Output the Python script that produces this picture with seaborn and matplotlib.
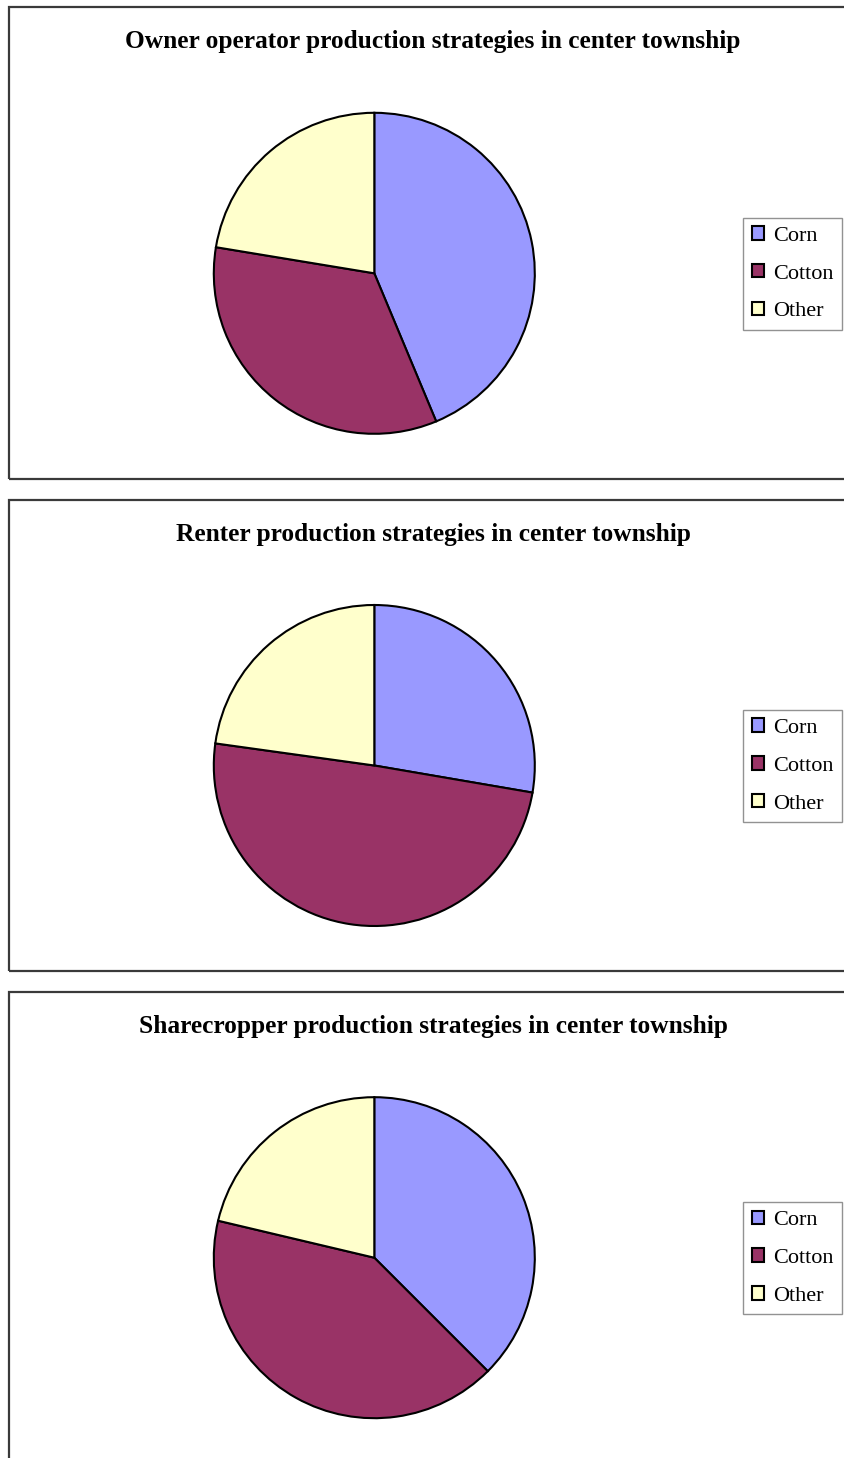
import matplotlib
matplotlib.use("Agg")
import matplotlib.pyplot as plt
from matplotlib.patches import Rectangle
import seaborn as sns
import pandas as pd

# ---- data (percent shares) ----
categories = ["Corn", "Cotton", "Other"]
owner_values = [43.7, 33.9, 22.4]
renter_values = [27.7, 49.5, 22.8]
sharecropper_values = [37.5, 41.2, 21.3]
titles = [
    "Owner operator production strategies in center township",
    "Renter production strategies in center township",
    "Sharecropper production strategies in center township",
]

df = pd.DataFrame({
    "category": categories * 3,
    "group": ["owner"] * 3 + ["renter"] * 3 + ["sharecropper"] * 3,
    "value": owner_values + renter_values + sharecropper_values,
})

sns.set_style("white")
plt.rcParams["font.family"] = ["Liberation Serif", "DejaVu Serif"]
plt.rcParams["text.color"] = "black"

palette = sns.color_palette(["#9999FF", "#993366", "#FFFFCC"])

W, H = 845, 1458
fig = plt.figure(figsize=(W / 100, H / 100), dpi=100)
fig.patch.set_facecolor("white")

panel_tops = [6.5, 499.5, 991.5]
panel_bottoms = [479, 971, 1475]
pie_centers = [(374.3, 273.3), (374.3, 765.5), (374.3, 1257.7)]
radius_px = 160.5
pad = 1.04

groups = ["owner", "renter", "sharecropper"]
for i, g in enumerate(groups):
    top, bot = panel_tops[i], panel_bottoms[i]
    # panel frame
    fig.add_artist(Rectangle((9.5 / W, 1 - bot / H), 1.1, (bot - top) / H,
                             transform=fig.transFigure, fill=False,
                             ec="#3a3a3a", lw=1.6, zorder=0))
    # title
    fig.text(433 / W, 1 - (top + 41.5) / H, titles[i], ha="center", va="baseline",
             fontsize=18.3, fontweight="bold", color="black",
             family=["Liberation Serif", "DejaVu Serif"])
    # pie
    cx, cy = pie_centers[i]
    half = radius_px * pad
    ax = fig.add_axes([(cx - half) / W, 1 - (cy + half) / H, 2 * half / W, 2 * half / H])
    sub = df[df["group"] == g]
    wedges, _ = ax.pie(sub["value"], colors=palette, startangle=90, counterclock=False,
                       radius=1.0, wedgeprops=dict(edgecolor="black", linewidth=1.5))
    ax.set_xlim(-pad, pad)
    ax.set_ylim(-pad, pad)
    ax.set_aspect("equal")
    ax.axis("off")
    # legend
    leg = fig.legend(wedges, sub["category"].tolist(), loc="center left",
                     bbox_to_anchor=(743.5 / W, 1 - (cy + 0.5) / H),
                     bbox_transform=fig.transFigure, fontsize=16,
                     frameon=True, fancybox=False, edgecolor="#777777",
                     borderpad=0.38, labelspacing=0.82, handlelength=0.55,
                     handleheight=0.55, handletextpad=0.4, borderaxespad=0)
    leg.get_frame().set_linewidth(1.0)
    for t in leg.get_texts():
        t.set_color("black")
    for h in leg.legend_handles:
        h.set_linewidth(1.5)
        h.set_edgecolor("black")

fig.savefig("out.png", dpi=100)
